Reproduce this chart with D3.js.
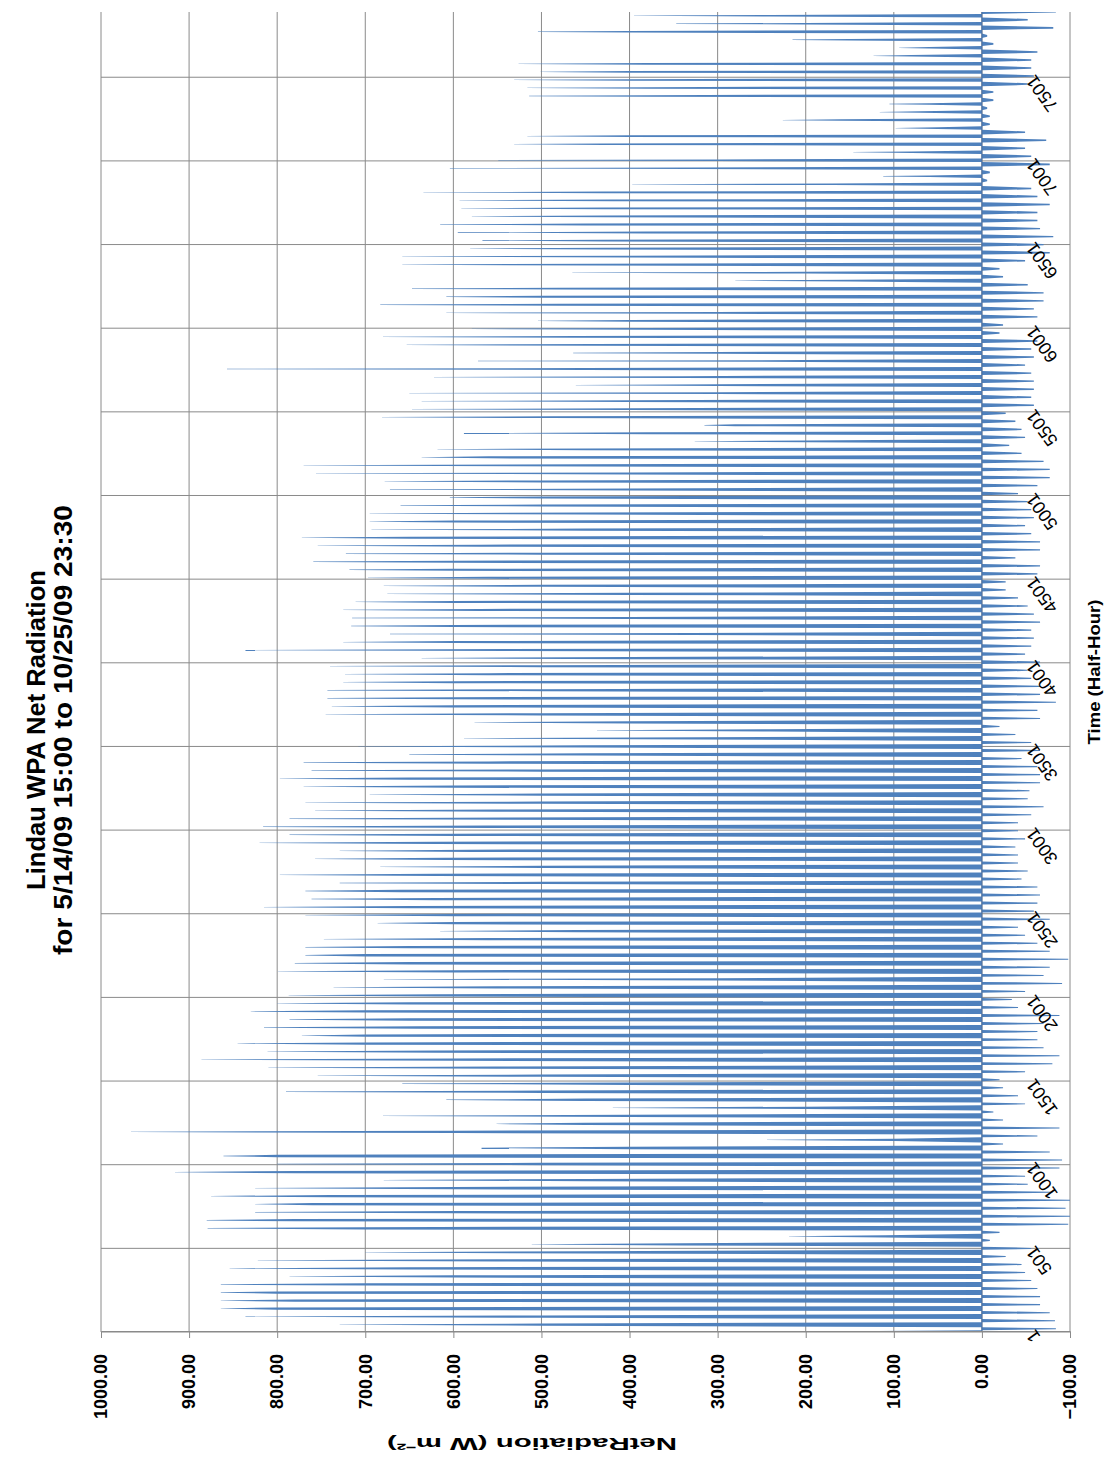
<!doctype html>
<html>
<head>
<meta charset="utf-8">
<script src="https://d3js.org/d3.v7.min.js"></script>
<style>
  body { margin: 0; background: #fff; }
  text { font-family: "Liberation Sans", Arial, sans-serif; }
</style>
</head>
<body>
<div id="viz"></div>
<script>
// daily peak of net radiation (W m-2), one value per day, 5/14 (afternoon only) .. 10/25
var dayPeak = [
  360, 729, 836, 864, 864, 864, 864, 786, 854, 822, 700, 511, 219, 879, 880, 825, 825, 875, 825, 679,
  916, 800, 861, 568, 244, 966, 551, 680, 419, 608, 790, 658, 754, 810, 886, 811, 845, 772, 815, 786,
  830, 800, 787, 736, 679, 799, 780, 768, 768, 747, 615, 686, 768, 815, 761, 768, 729, 797, 683, 757,
  729, 820, 786, 816, 786, 757, 768, 695, 770, 797, 761, 770, 650, 708, 588, 437, 576, 745, 738, 743,
  743, 725, 723, 740, 636, 836, 725, 672, 716, 715, 725, 711, 675, 679, 697, 718, 759, 722, 754, 772,
  693, 695, 695, 660, 604, 672, 678, 756, 770, 636, 618, 326, 588, 315, 681, 647, 636, 650, 461, 622,
  857, 572, 464, 653, 680, 579, 504, 608, 683, 608, 647, 280, 465, 658, 658, 581, 567, 595, 615, 579,
  591, 593, 634, 397, 112, 604, 549, 146, 531, 516,  98, 226, 116, 105, 514, 516, 531, 501, 526, 123,
   94, 215, 504, 347, 395
];
// level up to which the daily column stays broad (rest of the way is a single spike)
var dayBody = [
  200, 500, 500, 800, 780, 800, 700, 600, 650, 550, 450, 340, 110, 700, 780, 600, 760, 740, 600, 450,
  780, 500, 800, 400, 100, 600, 450, 400, 200, 450, 500, 400, 500, 550, 600, 620, 700, 700, 640, 650,
  700, 650, 620, 550, 300, 600, 650, 700, 650, 560, 460, 600, 600, 650, 620, 660, 500, 620, 500, 610,
  580, 620, 600, 560, 540, 550, 500, 500, 600, 650, 500, 560, 450, 450, 320, 240, 400, 500, 600, 600,
  500, 600, 560, 500, 400, 540, 600, 330, 600, 400, 570, 600, 400, 500, 560, 600, 600, 500, 570, 650,
  450, 600, 450, 500, 500, 400, 500, 400, 450, 560, 450, 200, 380, 280, 490, 400, 400, 300, 300, 340,
  450, 200, 300, 440, 460, 380, 400, 300, 480, 500, 480, 150, 200, 440, 400, 430, 430, 380, 450, 430,
  430, 420, 430, 170,  60, 330, 300,  80, 430, 400,  50, 160,  70,  60, 380, 380, 400, 400, 380,  80,
   60, 150, 400, 200, 240
];
// lowest value of the night following each day
var nightLow = [
  -84, -83, -77, -66, -66, -63, -56, -49, -45, -27, -56,  -9, -20, -98, -100, -95, -100, -80, -52, -49,
  -88, -91, -77, -24, -63, -88, -24, -13, -49, -41, -24, -20, -49, -80, -88, -70, -63, -63, -70, -88,
  -41, -34, -49, -91, -70, -77, -98, -77, -63, -49, -41, -77, -59, -63, -66, -63, -45, -52, -41, -41,
  -38, -49, -41, -41, -56, -70, -52, -54, -66, -66, -63, -45, -66, -56, -38, -20, -66, -63, -84, -66,
  -66, -56, -52, -66, -49, -56, -59, -56, -66, -59, -52, -41, -27, -27, -63, -66, -38, -66, -66, -56,
  -49, -59, -56, -52, -41, -63, -77, -77, -70, -45, -31, -49, -45, -38, -27, -59, -56, -59, -59, -56,
  -49, -59, -56, -63, -20, -24, -63, -59, -70, -70, -52, -24, -20, -49, -77, -70, -81, -66, -63, -63,
  -77, -63, -56,  -6,  -9, -77, -56, -49, -73, -49,  -9,  -9,  -6, -13, -13, -52, -59, -56, -56, -63,
  -13,  -6, -81, -52, -84
];
// hours with positive net radiation, May .. Oct
var monthNames = ["May", "Jun", "Jul", "Aug", "Sep", "Oct"];
var positiveHours = [15, 15.5, 15, 13.5, 12, 10.5];

var valueTicks = d3.range(-100, 1001, 100);
var timeTicks = [1, 501, 1001, 1501, 2001, 2501, 3001, 3501, 4001, 4501, 5001, 5501, 6001, 6501, 7001, 7501];
var nPoints = 7890;

// the chart is drawn upright and then turned a quarter turn
var W = 1320, H = 969;

var svg = d3.select("#viz").append("svg")
    .attr("width", 1110)
    .attr("height", 1465);
svg.append("rect").attr("width", 1110).attr("height", 1465).attr("fill", "#fff");

var g = svg.append("g")
    .attr("transform", "translate(101,1332) rotate(-90)");

var x = d3.scaleLinear().domain([0, nPoints]).range([0, W]);
var y = d3.scaleLinear().domain([1000, -100]).range([0, H]);

// gridlines
g.append("g").selectAll("line.v")
  .data(valueTicks)
  .enter().append("line")
    .attr("x1", 0).attr("x2", W)
    .attr("y1", d => y(d)).attr("y2", d => y(d))
    .attr("stroke", "#8a8a8a").attr("stroke-width", 1);

g.append("g").selectAll("line.t")
  .data(timeTicks)
  .enter().append("line")
    .attr("x1", d => x(d - 1)).attr("x2", d => x(d - 1))
    .attr("y1", 0).attr("y2", H)
    .attr("stroke", "#8a8a8a").attr("stroke-width", 1);

// columns
g.append("clipPath").attr("id", "plot")
  .append("rect").attr("width", W).attr("height", H);

var line = d3.line().x(p => x(p[0])).y(p => y(p[1]));

function halfSpan(d) {
  var date = new Date(2009, 4, 14 + d);
  return positiveHours[date.getMonth() - 4];
}

var bars = g.append("g").attr("clip-path", "url(#plot)");

dayPeak.forEach(function(peak, d) {
  var c = 48 * d - 4, h = halfSpan(d);
  var body = Math.min(dayBody[d], peak);
  var pts = [[c - h, 0], [c - 0.45 * h, body], [c - 1, peak], [c + 1, peak], [c + 0.45 * h, body], [c + h, 0]];
  bars.append("path").attr("d", line(pts) + "Z").attr("fill", "#4f81bd");

  var s = c + h, e = c + 48 - halfSpan(d + 1), w = e - s, m = nightLow[d];
  var npts = [[s, 0], [s + 0.3 * w, m], [s + 0.65 * w, m], [e, 0]];
  bars.append("path").attr("d", line(npts) + "Z").attr("fill", "#4f81bd");
});

// zero line
g.append("line")
    .attr("x1", 0).attr("x2", W)
    .attr("y1", y(0)).attr("y2", y(0))
    .attr("stroke", "#4a6fa0").attr("stroke-width", 1);

// value axis
var yAxis = g.append("g")
    .call(d3.axisLeft(y).tickValues(valueTicks).tickFormat(d3.format(".2f")).tickSize(6).tickPadding(16));
yAxis.select(".domain").attr("stroke", "#8a8a8a");
yAxis.selectAll(".tick line").attr("stroke", "#8a8a8a");
yAxis.selectAll("text")
    .attr("font-size", 18)
    .attr("font-weight", "bold")
    .attr("fill", "#000")
    .style("font-family", "'Liberation Sans', Arial, sans-serif");

// time labels
g.append("g").selectAll("text")
  .data(timeTicks)
  .enter().append("text")
    .attr("transform", d => "translate(" + x(d - 1) + "," + (y(0) + 48) + ") rotate(-36)")
    .attr("text-anchor", "end")
    .attr("dy", "0.35em")
    .attr("font-size", 18)
    .text(d => d);

// titles
g.append("text")
    .attr("x", 602).attr("y", -56)
    .attr("text-anchor", "middle")
    .attr("font-size", 25).attr("font-weight", "bold")
    .attr("textLength", 320).attr("lengthAdjust", "spacingAndGlyphs")
    .text("Lindau WPA Net Radiation");
g.append("text")
    .attr("x", 602).attr("y", -29)
    .attr("text-anchor", "middle")
    .attr("font-size", 25).attr("font-weight", "bold")
    .attr("textLength", 450).attr("lengthAdjust", "spacingAndGlyphs")
    .text("for 5/14/09 15:00 to 10/25/09 23:30");

g.append("text")
    .attr("x", W / 2).attr("y", H + 30)
    .attr("text-anchor", "middle")
    .attr("font-size", 17).attr("font-weight", "bold")
    .attr("textLength", 145).attr("lengthAdjust", "spacingAndGlyphs")
    .text("Time (Half-Hour)");

g.append("text")
    .attr("transform", "translate(-106," + (532 - 101) + ") rotate(-90)")
    .attr("text-anchor", "middle")
    .attr("font-size", 16).attr("font-weight", "bold")
    .attr("textLength", 290).attr("lengthAdjust", "spacingAndGlyphs")
    .text("NetRadiation (W m⁻²)");
</script>
</body>
</html>
